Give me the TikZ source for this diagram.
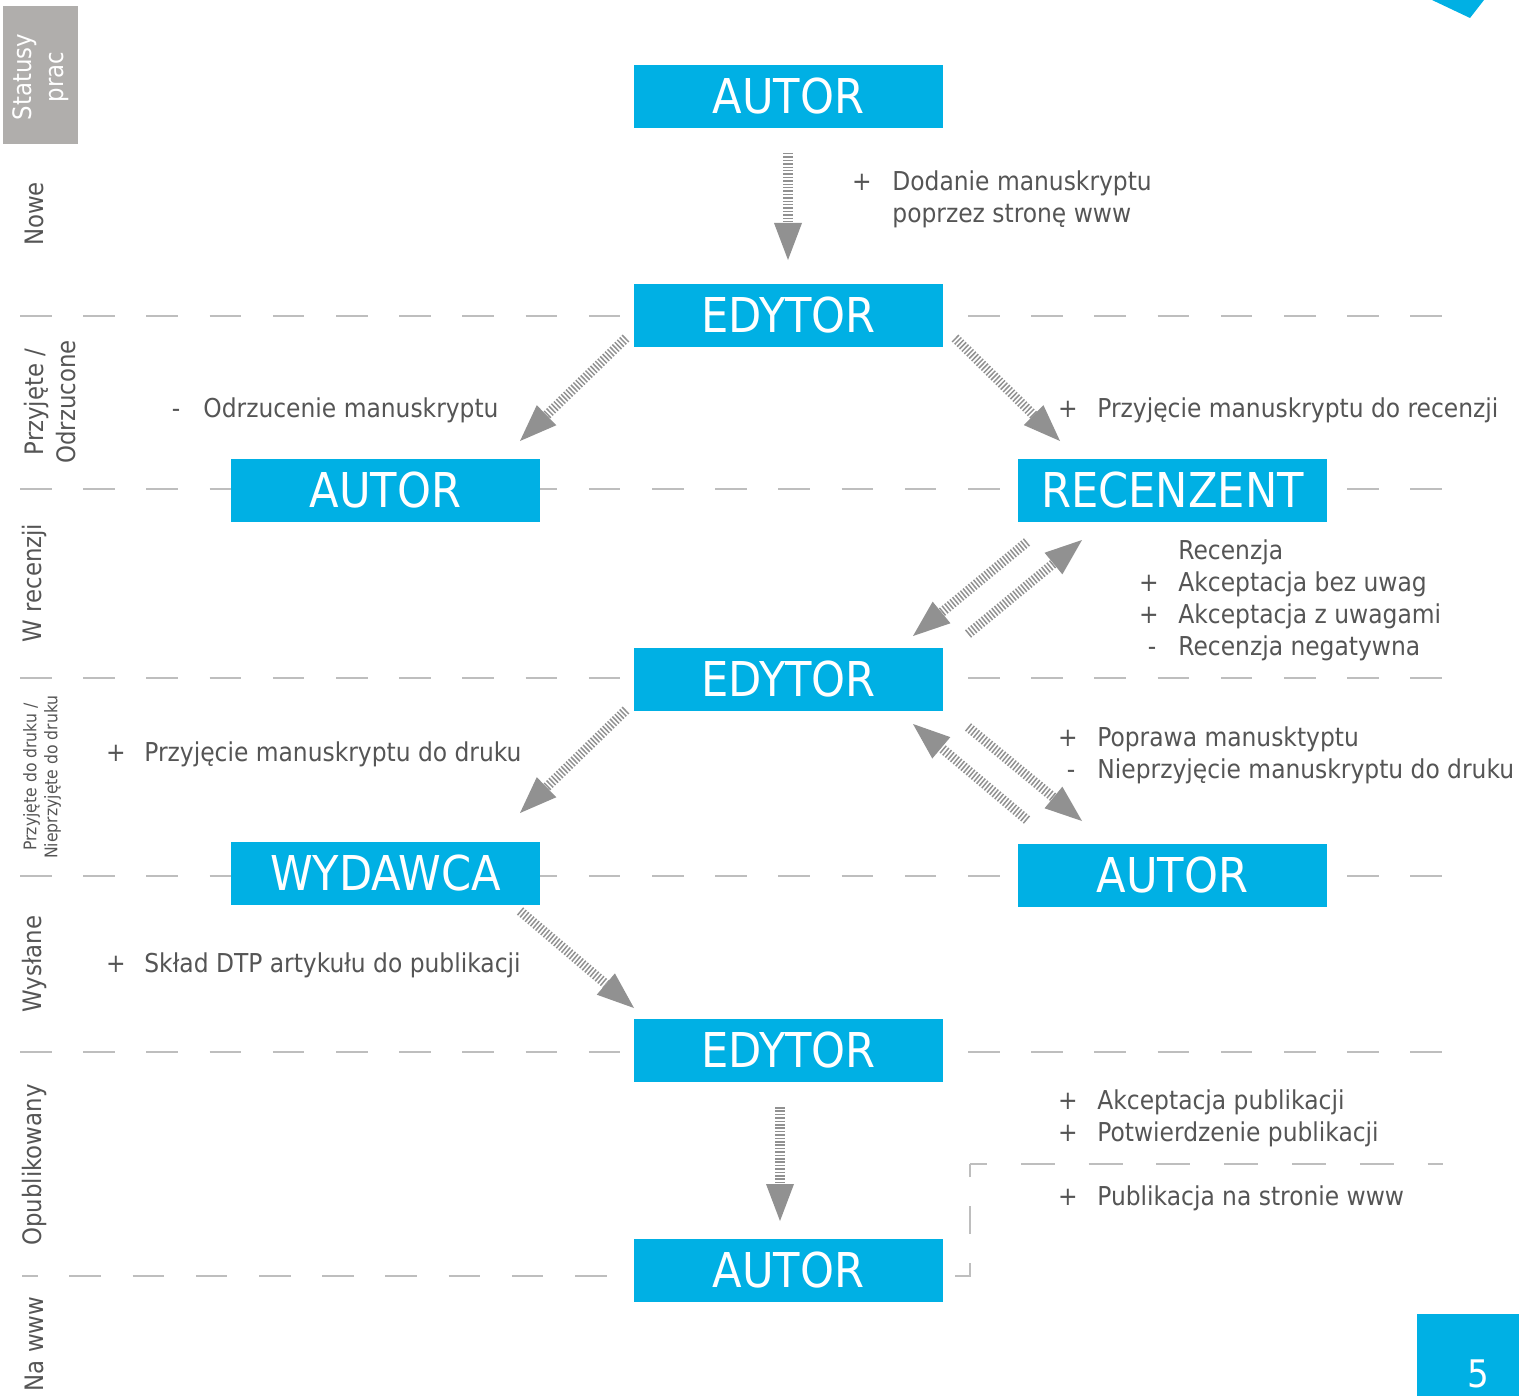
\documentclass[tikz,border=0pt]{standalone}
\usepackage{fontspec}
\setmainfont{DejaVu Sans Condensed}
\usetikzlibrary{calc}
\definecolor{cblue}{RGB}{0,176,228}
\definecolor{txtgray}{RGB}{85,85,85}
\definecolor{linegray}{RGB}{190,190,190}
\definecolor{argray}{RGB}{145,145,145}
\definecolor{boxgray}{RGB}{176,174,172}
\tikzset{
  bx/.style={fill=cblue, minimum width=154.5pt, minimum height=31.5pt, inner sep=0pt,
    text=white, font=\fontsize{24}{24}\selectfont},
  sepline/.style={draw=linegray, line width=1.3pt, dash pattern=on 15.8pt off 15.8pt},
  tx/.style={anchor=base west, text=txtgray, font=\fontsize{13}{15}\selectfont, inner sep=0pt},
  sg/.style={anchor=base, text=txtgray, font=\fontsize{13}{15}\selectfont, inner sep=0pt},
  rowlab/.style={rotate=90, text=txtgray, font=\fontsize{12.7}{16}\selectfont, align=center, inner sep=0pt},
  shaft/.style={draw=argray, line width=4.8pt, dash pattern=on 0.75pt off 0.95pt},
  headfill/.style={fill=argray}
}
\newcommand\hatchArrow[2]{%
  \coordinate (hb) at ($(#2)!18.5pt!(#1)$);
  \draw[shaft] (#1) -- (hb);
  \fill[headfill] (#2) -- ($(hb)!7pt!90:(#1)$) -- ($(hb)!7pt!-90:(#1)$) -- cycle;}
\begin{document}
\begin{tikzpicture}[x=0.5pt,y=-0.5pt]
\useasboundingbox (0,0) rectangle (1519,1396);
% separators
\draw[sepline] (20,316) -- (1443,316);
\draw[sepline] (20,489) -- (1443,489);
\draw[sepline] (20,678) -- (1443,678);
\draw[sepline] (20,876) -- (1443,876);
\draw[sepline] (20,1052) -- (1443,1052);
\draw[sepline, dash phase=7.9pt] (22,1276) -- (634,1276);
\coordinate (bk1) at (955,1276);
\coordinate (bk2) at (970,1276);
\coordinate (bk3) at (970,1164);
\coordinate (bk4) at (1443,1164);
\draw[sepline, dash pattern=on 14.25pt off 14.25pt] (bk1) -- (bk2) -- (bk3);
\draw[sepline, dash pattern=on 17pt off 16.9pt, dash phase=8.5pt] (bk3) -- (bk4);
% status header
\fill[boxgray] (3,6) rectangle (78,144);
\node[rowlab, text=white] (hdr) at (41,77) {Statusy\\prac};
% row labels
\node[rowlab] (l1) at (34,214) {Nowe};
\node[rowlab] (l2) at (50,402) {Przyjęte /\\Odrzucone};
\node[rowlab] (l3) at (34,583) {W recenzji};
\node[rowlab, font=\fontsize{8.7}{10.5}\selectfont] (l4) at (42,777) {Przyjęte do druku /\\Nieprzyjęte do druku};
\node[rowlab] (l5) at (34,964) {Wysłane};
\node[rowlab] (l6) at (34,1165) {Opublikowany};
\node[rowlab] (l7) at (34,1344) {Na www};
% corner decorations
\fill[cblue] (1432,0) -- (1484,0) -- (1470,18) -- cycle;
\fill[cblue] (1417,1314) rectangle (1519,1396);
\node[anchor=base, text=white, font=\fontsize{19}{19}\selectfont, inner sep=0pt] (pg) at (1478,1387) {5};
% boxes
\node[bx] (autor1) at (788.5,96.5) {AUTOR};
\node[bx] (edytor1) at (788.5,315.5) {EDYTOR};
\node[bx] (autor2) at (385.5,490.5) {AUTOR};
\node[bx] (recenzent) at (1172.5,490.5) {RECENZENT};
\node[bx] (edytor2) at (788.5,679.5) {EDYTOR};
\node[bx] (wydawca) at (385.5,873.5) {WYDAWCA};
\node[bx] (autor3) at (1172.5,875.5) {AUTOR};
\node[bx] (edytor3) at (788.5,1050.5) {EDYTOR};
\node[bx] (autor4) at (788.5,1270.5) {AUTOR};
% arrow end points
\coordinate (a1s) at (788,153);  \coordinate (a1t) at (788,260);
\coordinate (a2s) at (626,338);  \coordinate (a2t) at (520,441);
\coordinate (a3s) at (955,338);  \coordinate (a3t) at (1060,441);
\coordinate (a4s) at (1027,542); \coordinate (a4t) at (913,636);
\coordinate (a5s) at (968,634);  \coordinate (a5t) at (1082,540);
\coordinate (a6s) at (626,710);  \coordinate (a6t) at (520,813);
\coordinate (a7s) at (968,727);  \coordinate (a7t) at (1082,821);
\coordinate (a8s) at (1027,820); \coordinate (a8t) at (913,724);
\coordinate (a9s) at (520,911);  \coordinate (a9t) at (634,1008);
\coordinate (a10s) at (780,1107); \coordinate (a10t) at (780,1221);
\hatchArrow{a1s}{a1t}
\hatchArrow{a2s}{a2t}
\hatchArrow{a3s}{a3t}
\hatchArrow{a4s}{a4t}
\hatchArrow{a5s}{a5t}
\hatchArrow{a6s}{a6t}
\hatchArrow{a7s}{a7t}
\hatchArrow{a8s}{a8t}
\hatchArrow{a9s}{a9t}
\hatchArrow{a10s}{a10t}
% texts
\node[sg] (s1) at (862,191) {+}; \node[tx] (t1) at (892,191) {Dodanie manuskryptu};
\node[tx] (t1b) at (892,223) {poprzez stronę www};
\node[sg] (s2) at (176,417) {-}; \node[tx] (t2) at (203,417) {Odrzucenie manuskryptu};
\node[sg] (s3) at (1068,417) {+}; \node[tx] (t3) at (1097,417) {Przyjęcie manuskryptu do recenzji};
\node[tx] (t4) at (1178,559) {Recenzja};
\node[sg] (s5) at (1149,591) {+}; \node[tx] (t5) at (1178,591) {Akceptacja bez uwag};
\node[sg] (s6) at (1149,623) {+}; \node[tx] (t6) at (1178,623) {Akceptacja z uwagami};
\node[sg] (s7) at (1152,655) {-}; \node[tx] (t7) at (1178,655) {Recenzja negatywna};
\node[sg] (s8) at (116,761) {+}; \node[tx] (t8) at (144,761) {Przyjęcie manuskryptu do druku};
\node[sg] (s9) at (1068,746) {+}; \node[tx] (t9) at (1097,746) {Poprawa manusktyptu};
\node[sg] (s10) at (1071,778) {-}; \node[tx] (t10) at (1097,778) {Nieprzyjęcie manuskryptu do druku};
\node[sg] (s11) at (116,972) {+}; \node[tx] (t11) at (144,972) {Skład DTP artykułu do publikacji};
\node[sg] (s12) at (1068,1109) {+}; \node[tx] (t12) at (1097,1109) {Akceptacja publikacji};
\node[sg] (s13) at (1068,1141) {+}; \node[tx] (t13) at (1097,1141) {Potwierdzenie publikacji};
\node[sg] (s14) at (1068,1205) {+}; \node[tx] (t14) at (1097,1205) {Publikacja na stronie www};
\end{tikzpicture}
\end{document}
